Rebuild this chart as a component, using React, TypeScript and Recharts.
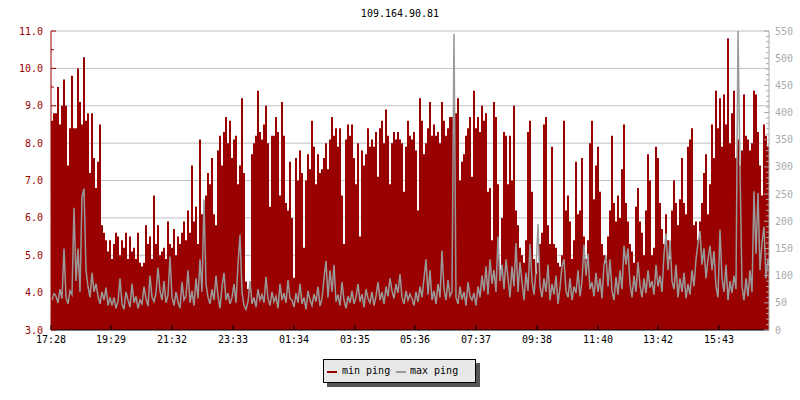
import { ComposedChart, Area, Line, XAxis, YAxis, CartesianGrid } from 'recharts';

const FONT = '"DejaVu Sans Mono", monospace';
const RED = '#990000';
const GREY = '#999999';

// x axis labels, placed in minutes after 17:28
const timeLabels = ['17:28', '19:29', '21:32', '23:33', '01:34', '03:35', '05:36', '07:37', '09:38', '11:40', '13:42', '15:43'];
const timeTicks = [0, 120, 242, 364, 486, 608, 728, 850, 972, 1094, 1214, 1336];

const leftTicks = [3, 3.5, 4, 4.5, 5, 5.5, 6, 6.5, 7, 7.5, 8, 8.5, 9, 9.5, 10, 10.5, 11];
const gridValues = [4, 5, 6, 7, 8, 9, 10, 11];
const rightTicks = Array.from({ length: 56 }, (_, i) => i * 10);

// min ping (left axis), one sample every 4 min, split in ~2h blocks
const minPing1 = [8.6, 8.8, 8.8, 9.5, 8.5, 9.0, 9.7, 9.0, 7.4, 8.4, 9.8, 8.4, 8.4, 10.0, 9.1, 8.5, 10.3, 8.6, 8.8, 7.2, 8.8, 7.6, 6.8, 7.5, 8.5, 5.8, 5.6, 5.4, 5.1, 5.4];
const minPing2 = [4.9, 5.3, 5.6, 5.5, 5.0, 5.4, 5.2, 5.6, 4.9, 5.5, 5.1, 5.2, 4.9, 5.6, 4.8, 4.7, 4.8, 5.8, 5.3, 5.5, 4.9, 6.6, 5.3, 5.8, 5.0, 5.1, 5.2, 4.9, 5.9, 5.3];
const minPing3 = [5.2, 5.7, 5.0, 5.5, 5.3, 5.6, 5.9, 5.4, 6.2, 5.6, 7.4, 5.9, 6.3, 5.3, 8.1, 6.1, 5.8, 6.6, 7.2, 6.9, 7.6, 6.1, 5.8, 7.8, 8.2, 7.4, 8.3, 8.7, 8.0, 8.6];
const minPing4 = [7.6, 8.1, 8.2, 6.9, 7.4, 9.2, 7.2, 4.3, 4.1, 4.2, 7.7, 8.0, 8.2, 9.4, 8.3, 8.1, 8.5, 9.0, 8.0, 6.3, 8.2, 8.2, 8.7, 8.3, 6.6, 9.1, 8.2, 6.4, 6.2, 7.5];
const minPing5 = [6.0, 4.4, 7.6, 7.0, 7.8, 7.2, 5.2, 7.0, 7.7, 7.3, 8.6, 7.9, 6.9, 7.7, 7.2, 7.3, 7.6, 8.0, 7.3, 8.1, 8.7, 8.2, 8.4, 7.9, 8.4, 6.6, 5.3, 8.1, 8.5, 8.2];
const minPing6 = [8.5, 7.6, 6.9, 8.0, 5.5, 7.8, 7.4, 7.7, 8.4, 7.9, 8.1, 7.9, 8.3, 7.1, 8.4, 8.6, 8.0, 8.9, 8.2, 6.9, 8.0, 8.3, 8.1, 8.3, 8.1, 8.0, 6.7, 7.9, 8.6, 8.2];
const minPing7 = [8.1, 8.3, 7.8, 6.2, 9.2, 8.6, 7.7, 8.0, 8.4, 9.1, 8.2, 8.5, 8.2, 8.3, 8.0, 9.1, 8.6, 8.2, 8.4, 8.7, 8.7, 9.0, 8.8, 9.2, 7.0, 7.5, 7.7, 8.2, 8.4, 8.7];
const minPing8 = [7.1, 9.4, 8.4, 8.7, 8.3, 9.0, 8.6, 8.8, 6.7, 6.8, 5.4, 9.1, 8.7, 6.9, 4.6, 6.0, 8.3, 8.2, 6.9, 8.2, 7.0, 9.0, 6.2, 5.8, 5.2, 5.0, 4.8, 5.4, 8.3, 8.6];
const minPing9 = [6.7, 4.9, 4.5, 4.8, 5.3, 5.6, 8.5, 8.7, 5.8, 5.3, 7.9, 5.3, 5.2, 4.8, 4.7, 5.0, 8.6, 6.2, 6.6, 5.9, 4.9, 5.4, 7.5, 6.1, 6.2, 7.6, 5.5, 4.9, 5.4, 8.0];
const minPing10 = [8.6, 6.5, 7.4, 7.9, 6.7, 5.3, 5.0, 4.8, 5.5, 6.2, 8.2, 6.4, 5.9, 6.6, 6.0, 7.3, 8.5, 6.4, 5.9, 5.3, 5.1, 4.8, 6.3, 6.8, 5.9, 5.6, 5.0, 6.2, 7.7, 7.0];
const minPing11 = [5.0, 5.2, 7.9, 7.6, 6.4, 5.7, 5.3, 6.1, 5.4, 4.9, 6.2, 7.0, 6.4, 5.8, 6.5, 7.6, 6.4, 6.1, 7.9, 8.1, 8.4, 5.8, 5.9, 5.4, 5.9, 6.4, 7.2, 7.7, 6.1, 6.9];
const minPing12 = [8.5, 7.6, 9.4, 8.4, 9.2, 7.9, 9.3, 8.5, 10.8, 8.0, 8.8, 9.4, 7.6, 8.1, 7.4, 7.8, 9.3, 8.2, 8.1, 7.8, 8.0, 9.4, 9.3, 8.3, 7.4, 6.6, 8.5, 8.2, 7.9, 8.3];

// max ping (right axis), same samples
const maxPing1 = [55, 68, 62, 50, 75, 58, 150, 60, 48, 72, 65, 225, 90, 150, 70, 245, 260, 110, 80, 60, 105, 70, 85, 62, 48, 70, 55, 78, 45, 60];
const maxPing2 = [45, 60, 40, 52, 95, 48, 38, 70, 55, 42, 85, 50, 62, 40, 55, 48, 80, 58, 44, 100, 60, 52, 68, 115, 72, 55, 90, 50, 64, 135];
const maxPing3 = [60, 45, 70, 52, 40, 88, 55, 62, 110, 50, 72, 45, 95, 58, 130, 70, 240, 85, 60, 48, 75, 55, 100, 62, 40, 80, 105, 55, 68, 48];
const maxPing4 = [60, 85, 50, 120, 175, 70, 45, 38, 52, 90, 48, 60, 42, 75, 55, 65, 50, 98, 58, 45, 70, 52, 62, 40, 85, 55, 68, 50, 92, 58];
const maxPing5 = [55, 42, 68, 50, 85, 48, 60, 38, 72, 55, 45, 66, 52, 80, 44, 58, 95, 127, 60, 110, 70, 120, 52, 65, 45, 88, 55, 40, 62, 50];
const maxPing6 = [72, 48, 60, 85, 52, 66, 42, 75, 58, 50, 70, 45, 62, 88, 55, 70, 48, 80, 62, 95, 72, 58, 85, 68, 103, 60, 48, 72, 55, 66];
const maxPing7 = [58, 45, 70, 52, 80, 60, 95, 130, 65, 110, 55, 72, 48, 85, 60, 146, 75, 55, 92, 62, 70, 545, 60, 48, 80, 56, 70, 45, 88, 62];
const maxPing8 = [55, 68, 45, 80, 60, 100, 72, 117, 65, 130, 85, 110, 70, 172, 90, 120, 75, 130, 95, 60, 117, 80, 160, 70, 125, 88, 55, 105, 72, 158];
const maxPing9 = [90, 65, 110, 195, 80, 60, 95, 70, 120, 55, 85, 65, 100, 48, 78, 117, 130, 72, 60, 95, 55, 80, 68, 110, 62, 90, 157, 100, 140, 75];
const maxPing10 = [88, 62, 105, 70, 95, 58, 120, 137, 80, 130, 72, 55, 98, 65, 110, 75, 155, 120, 150, 85, 60, 100, 70, 125, 82, 60, 95, 68, 110, 78];
const maxPing11 = [90, 65, 120, 80, 100, 70, 140, 178, 110, 165, 90, 75, 120, 60, 95, 70, 105, 58, 85, 65, 110, 80, 130, 160, 182, 120, 150, 95, 130, 155];
const maxPing12 = [110, 145, 80, 60, 185, 95, 70, 120, 55, 90, 68, 100, 75, 550, 296, 80, 55, 95, 62, 110, 70, 255, 140, 252, 110, 160, 190, 95, 130, 115];

const minPing = [...minPing1, ...minPing2, ...minPing3, ...minPing4, ...minPing5, ...minPing6,
  ...minPing7, ...minPing8, ...minPing9, ...minPing10, ...minPing11, ...minPing12];
const maxPing = [...maxPing1, ...maxPing2, ...maxPing3, ...maxPing4, ...maxPing5, ...maxPing6,
  ...maxPing7, ...maxPing8, ...maxPing9, ...maxPing10, ...maxPing11, ...maxPing12];

const rows = minPing.map((v, i) => ({ t: i * 4, min: v, max: maxPing[i] }));

function LeftTick({ x, y, payload }: any) {
  const major = Number.isInteger(payload.value);
  return (
    <g>
      <line x1={x} x2={x + (major ? 5 : 3)} y1={y} y2={y} stroke={RED} />
      {major && (
        <text x={x - 8} y={y} textAnchor="end" dominantBaseline="central"
          fill={RED} fontSize={10} fontFamily={FONT}>
          {payload.value.toFixed(1)}
        </text>
      )}
    </g>
  );
}

function RightTick({ x, y, payload }: any) {
  const major = payload.value % 50 === 0;
  return (
    <g>
      <line x1={x - (major ? 5 : 3)} x2={x} y1={y} y2={y} stroke="#aaaaaa" />
      {major && (
        <text x={x + 6} y={y} textAnchor="start" dominantBaseline="central"
          fill="#aaaaaa" fontSize={10} fontFamily={FONT}>
          {payload.value}
        </text>
      )}
    </g>
  );
}

function TimeTick({ x, y, payload }: any) {
  const label = timeLabels[timeTicks.indexOf(payload.value)];
  return (
    <g>
      <line x1={x} x2={x} y1={y} y2={y - 5} stroke="#000" />
      <text x={x} y={y + 13} textAnchor="middle" fill="#000" fontSize={10} fontFamily={FONT}>
        {label}
      </text>
    </g>
  );
}

export default function App() {
  return (
    <div style={{ position: 'absolute', left: 0, top: 0, width: 800, height: 400, background: '#fff' }}>
      <div style={{
        position: 'absolute', left: 0, top: 8, width: 800, textAlign: 'center',
        fontFamily: FONT, fontSize: 10, lineHeight: '12px', color: '#000',
      }}>
        109.164.90.81
      </div>
      <ComposedChart width={800} height={400} data={rows} margin={{ top: 31, right: 0, bottom: 0, left: 0 }}>
        <CartesianGrid yAxisId="left" vertical={false} horizontalValues={gridValues} stroke="#c0c0c0" />
        <XAxis dataKey="t" type="number" domain={[0, 1436]} ticks={timeTicks} interval={0}
          height={70} tickSize={0} tickMargin={0} axisLine={{ stroke: '#000' }} tickLine={false}
          tick={TimeTick} allowDataOverflow />
        {/* same time scale, shifted so each grey sample sits mid-column */}
        <XAxis xAxisId="line" dataKey="t" type="number" domain={[-2, 1434]} hide allowDataOverflow />
        <YAxis yAxisId="left" domain={[3, 11]} ticks={leftTicks} interval={0} width={51}
          tickSize={0} tickMargin={0} axisLine={{ stroke: RED }} tickLine={false} tick={LeftTick}
          allowDataOverflow />
        <YAxis yAxisId="right" orientation="right" domain={[0, 550]} ticks={rightTicks} interval={0}
          width={31} tickSize={0} tickMargin={0} axisLine={{ stroke: '#aaaaaa' }} tickLine={false}
          tick={RightTick} allowDataOverflow />
        <Area yAxisId="left" dataKey="min" type="stepAfter" baseValue={3} fill={RED} fillOpacity={1}
          stroke="none" isAnimationActive={false} />
        <Line xAxisId="line" yAxisId="right" dataKey="max" type="linear" stroke={GREY} strokeWidth={1.5}
          dot={false} activeDot={false} isAnimationActive={false} />
      </ComposedChart>
      <div style={{
        position: 'absolute', left: 323, top: 359, width: 151, height: 22,
        border: '1px solid #000', background: '#e8e8e8', boxShadow: '4px 4px 0 #555',
        fontFamily: FONT, fontSize: 10, lineHeight: '12px', color: '#000',
      }}>
        <span style={{ position: 'absolute', left: 3, top: 11, width: 10, height: 2, background: RED }} />
        <span style={{ position: 'absolute', left: 18, top: 5 }}>min ping</span>
        <span style={{ position: 'absolute', left: 72, top: 11, width: 10, height: 2, background: GREY }} />
        <span style={{ position: 'absolute', left: 86, top: 5 }}>max ping</span>
      </div>
    </div>
  );
}
